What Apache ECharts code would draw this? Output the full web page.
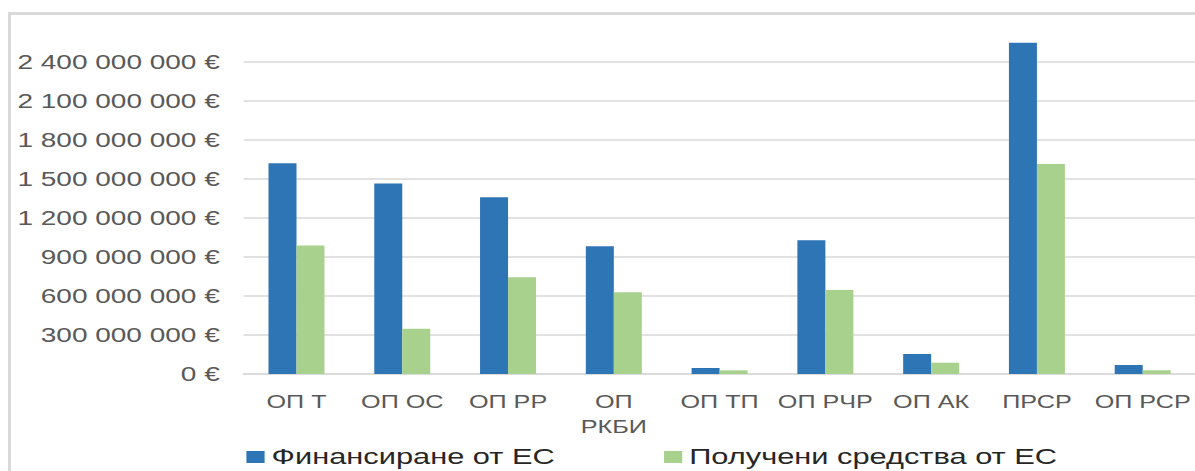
<!DOCTYPE html>
<html>
<head>
<meta charset="utf-8">
<script src="https://cdn.jsdelivr.net/npm/echarts@6/dist/echarts.min.js"></script>
<style>
  html, body { margin: 0; padding: 0; background: #fff; overflow: hidden; }
  #frame { position: absolute; left: 8px; top: 12px; width: 1300px; height: 600px; border: 3px solid #d9d9d9; box-sizing: border-box; }
  /* the source picture is the chart stretched sideways, so draw it narrow and widen it */
  #chart { position: absolute; left: 0; top: 0; width: 854px; height: 471px; transform: scaleX(1.4); transform-origin: 0 0; }
</style>
</head>
<body>
<div id="frame"></div>
<div id="chart"></div>
<script>
const categories = ["ОП Т", "ОП ОС", "ОП РР", "ОП\nРКБИ", "ОП ТП", "ОП РЧР", "ОП АК", "ПРСР", "ОП РСР"];
const euFunding = [1622e6, 1465e6, 1360e6, 983e6, 46e6, 1029e6, 154e6, 2549e6, 69e6];
const receivedFunds = [988e6, 349e6, 744e6, 629e6, 28e6, 647e6, 87e6, 1615e6, 28e6];
const seriesNames = ["Финансиране от ЕС", "Получени средства от ЕС"];

const baseFont = "'Liberation Sans', Arial, sans-serif";

function formatEuro(value) {
  return String(Math.round(value)).replace(/\B(?=(\d{3})+(?!\d))/g, " ") + " €";
}

const chart = echarts.init(document.getElementById("chart"), null, { renderer: "svg" });

chart.setOption({
  backgroundColor: "transparent",
  animation: false,
  grid: { left: 174, right: -3, top: 23, bottom: 97 },
  legend: {
    data: seriesNames,
    left: 171,
    top: 440,
    itemWidth: 13,
    itemHeight: 12,
    itemGap: 78,
    icon: "rect",
    textStyle: { fontFamily: baseFont, fontSize: 22, lineHeight: 24, color: "#262626" }
  },
  xAxis: {
    type: "category",
    data: categories,
    axisLine: { lineStyle: { color: "#d9d9d9", width: 1.5 } },
    axisTick: { show: false },
    axisLabel: {
      color: "#595959",
      fontFamily: baseFont,
      fontSize: 18,
      lineHeight: 25,
      margin: 15,
      interval: 0
    }
  },
  yAxis: {
    type: "value",
    min: 0,
    max: 2700e6,
    interval: 300e6,
    axisLine: { show: false },
    axisTick: { show: false },
    axisLabel: {
      color: "#595959",
      fontFamily: baseFont,
      fontSize: 20,
      margin: 17,
      showMaxLabel: false,
      formatter: formatEuro
    },
    splitLine: {
      lineStyle: {
        width: 1.5,
        color: ["#d9d9d9", "#d9d9d9", "#d9d9d9", "#d9d9d9", "#d9d9d9", "#d9d9d9", "#d9d9d9", "#d9d9d9", "#d9d9d9", "rgba(0,0,0,0)"]
      }
    }
  },
  series: [
    {
      name: seriesNames[0],
      type: "bar",
      data: euFunding,
      barWidth: 20,
      barGap: "0%",
      itemStyle: { color: "#2e75b6" }
    },
    {
      name: seriesNames[1],
      type: "bar",
      data: receivedFunds,
      barWidth: 20,
      barGap: "0%",
      itemStyle: { color: "#a9d18e" }
    }
  ]
});
</script>
</body>
</html>
